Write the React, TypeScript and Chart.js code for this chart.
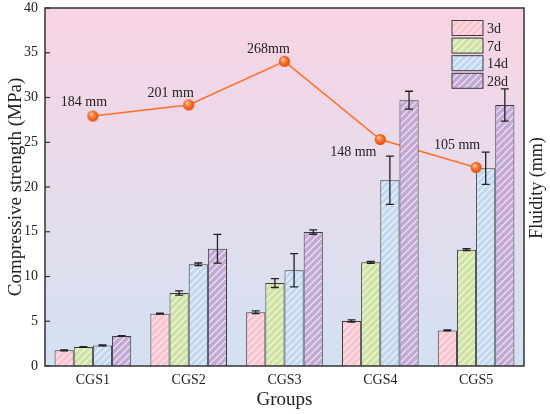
import React, { useEffect, useRef } from "react";
import { Chart, registerables } from "chart.js";

Chart.register(...registerables);

const groups = ["CGS1", "CGS2", "CGS3", "CGS4", "CGS5"];
const ageLabels = ["3d", "7d", "14d", "28d"];
const strength3d = [1.75, 5.85, 6.0, 5.03, 3.98];
const strength7d = [2.12, 8.16, 9.27, 11.58, 13.0];
const strength14d = [2.3, 11.36, 10.7, 20.75, 22.1];
const strength28d = [3.35, 13.1, 14.97, 29.7, 29.16];
const err3d = [0.05, 0.05, 0.15, 0.13, 0.05];
const err7d = [0.05, 0.24, 0.5, 0.1, 0.1];
const err14d = [0.05, 0.15, 1.85, 2.7, 1.8];
const err28d = [0.05, 1.6, 0.25, 1.0, 1.8];
const fluidity = [184, 201, 268, 148, 105];
const fluidityLabels = ["184 mm", "201 mm", "268mm", "148 mm", "105 mm"];

const FONT = "'Liberation Serif', 'Times New Roman', serif";
const barColors = ["#fdc4d0", "#d0e3a4", "#c3d9f2", "#c4a8d6"];
const labelOffsets = [
  [-9, -10],
  [-18, -8],
  [-16, -8],
  [-27, 17],
  [-19, -18],
];

function makeHatch(color: string): CanvasPattern | string {
  const s = 7;
  const c = document.createElement("canvas");
  c.width = s;
  c.height = s;
  const g = c.getContext("2d");
  if (!g) return color;
  g.fillStyle = color;
  g.fillRect(0, 0, s, s);
  g.strokeStyle = "rgba(255,255,255,0.8)";
  g.lineWidth = 1.1;
  g.beginPath();
  g.moveTo(0, s);
  g.lineTo(s, 0);
  g.moveTo(-1, 1);
  g.lineTo(1, -1);
  g.moveTo(s - 1, s + 1);
  g.lineTo(s + 1, s - 1);
  g.stroke();
  return g.createPattern(c, "repeat") || color;
}

function makeBall(r: number): HTMLCanvasElement {
  const size = r * 2 + 2;
  const c = document.createElement("canvas");
  c.width = size;
  c.height = size;
  const g = c.getContext("2d");
  if (g) {
    const cx = size / 2;
    const cy = size / 2;
    const grad = g.createRadialGradient(cx - r * 0.35, cy - r * 0.4, r * 0.1, cx, cy, r);
    grad.addColorStop(0, "#ffd9bf");
    grad.addColorStop(0.35, "#ff8640");
    grad.addColorStop(1, "#e24a05");
    g.fillStyle = grad;
    g.beginPath();
    g.arc(cx, cy, r, 0, Math.PI * 2);
    g.fill();
  }
  return c;
}

export default function App() {
  const ref = useRef<HTMLCanvasElement | null>(null);

  useEffect(() => {
    document.body.style.margin = "0";
    const canvas = ref.current;
    if (!canvas) return;

    const values = [strength3d, strength7d, strength14d, strength28d];
    const errors = [err3d, err7d, err14d, err28d];
    const patterns = barColors.map((c) => makeHatch(c));
    const ball = makeBall(5.5);

    const barSets: any[] = ageLabels.map((lab, i) => ({
      type: "bar",
      label: lab,
      data: values[i],
      backgroundColor: patterns[i],
      borderColor: "#3a3a3a",
      borderWidth: 1,
      categoryPercentage: 0.8,
      barPercentage: 1.0,
      yAxisID: "y",
      order: 1,
    }));

    const decor = {
      id: "decor",
      beforeDraw(chart: any) {
        const { ctx, chartArea: a } = chart;
        const grad = ctx.createLinearGradient(0, a.top, 0, a.bottom);
        grad.addColorStop(0, "#f8d3e4");
        grad.addColorStop(0.5, "#e6dcec");
        grad.addColorStop(1, "#d3e1f1");
        ctx.save();
        ctx.fillStyle = grad;
        ctx.fillRect(a.left, a.top, a.right - a.left, a.bottom - a.top);
        ctx.restore();
      },
      afterDatasetsDraw(chart: any) {
        const { ctx } = chart;
        const ys = chart.scales.y;
        ctx.save();
        ctx.strokeStyle = "#222";
        ctx.lineWidth = 1.3;
        for (let i = 0; i < 4; i++) {
          const meta = chart.getDatasetMeta(i);
          meta.data.forEach((el: any, j: number) => {
            const v = values[i][j];
            const e = errors[i][j];
            const yt = ys.getPixelForValue(v + e);
            const yb = ys.getPixelForValue(v - e);
            const x = el.x;
            ctx.beginPath();
            ctx.moveTo(x, yt);
            ctx.lineTo(x, yb);
            ctx.moveTo(x - 4, yt);
            ctx.lineTo(x + 4, yt);
            ctx.moveTo(x - 4, yb);
            ctx.lineTo(x + 4, yb);
            ctx.stroke();
          });
        }
        ctx.restore();
      },
      afterDraw(chart: any) {
        const { ctx, chartArea: a } = chart;
        const ys = chart.scales.y;
        ctx.save();
        ctx.strokeStyle = "#333";
        ctx.lineWidth = 1.5;
        ctx.strokeRect(a.left, a.top, a.right - a.left, a.bottom - a.top);
        ctx.lineWidth = 1.2;
        ys.ticks.forEach((t: any) => {
          const y = ys.getPixelForValue(t.value);
          ctx.beginPath();
          ctx.moveTo(a.left, y);
          ctx.lineTo(a.left + 5, y);
          ctx.stroke();
        });
        const lineMeta = chart.getDatasetMeta(5);
        ctx.fillStyle = "#222";
        ctx.font = `14px ${FONT}`;
        ctx.textAlign = "center";
        ctx.textBaseline = "alphabetic";
        lineMeta.data.forEach((p: any, j: number) => {
          const [dx, dy] = labelOffsets[j];
          ctx.fillText(fluidityLabels[j], p.x + dx, p.y + dy);
        });
        const lx = 452;
        const ly = 20.5;
        const pitch = 17.6;
        ctx.textAlign = "left";
        for (let i = 0; i < 4; i++) {
          const y = ly + i * pitch;
          ctx.fillStyle = patterns[i] as any;
          ctx.fillRect(lx, y, 31, 15);
          ctx.strokeStyle = "#3a3a3a";
          ctx.lineWidth = 1;
          ctx.strokeRect(lx, y, 31, 15);
          ctx.fillStyle = "#222";
          ctx.fillText(ageLabels[i], lx + 35, y + 12.5);
        }
        ctx.translate(537, 188);
        ctx.rotate(-Math.PI / 2);
        ctx.font = `18px ${FONT}`;
        ctx.textAlign = "center";
        ctx.textBaseline = "middle";
        ctx.fillStyle = "#222";
        ctx.fillText("Fluidity (mm)", 0, 0);
        ctx.restore();
      },
    };

    const chart = new Chart(canvas, {
      type: "bar",
      data: {
        labels: groups,
        datasets: [
          ...barSets,
          {
            type: "line",
            label: "Fluidity line",
            data: fluidity,
            yAxisID: "y1",
            borderColor: "#ff6f26",
            borderWidth: 1.5,
            pointRadius: 0,
            order: 10,
          },
          {
            type: "line",
            label: "Fluidity",
            data: fluidity,
            yAxisID: "y1",
            showLine: false,
            pointStyle: ball,
            pointRadius: 5.5,
            order: 0,
          },
        ],
      } as any,
      options: {
        responsive: false,
        animation: false,
        devicePixelRatio: 1,
        layout: { padding: { top: 8, right: 26, left: 0, bottom: 0 } },
        plugins: {
          legend: { display: false },
          tooltip: { enabled: false },
        },
        scales: {
          x: {
            type: "category",
            grid: { display: false, drawTicks: false },
            border: { display: false },
            ticks: { font: { family: FONT, size: 14 }, color: "#222", padding: 6 },
            title: {
              display: true,
              text: "Groups",
              font: { family: FONT, size: 19 },
              color: "#222",
              padding: { top: 0, bottom: 2.6 },
            },
            afterFit: (s: any) => {
              s.height = 48;
              s.paddingLeft = 0;
              s.paddingRight = 0;
            },
          },
          y: {
            type: "linear",
            position: "left",
            min: 0,
            max: 40,
            grid: { display: false, drawTicks: false },
            border: { display: false },
            ticks: { stepSize: 5, font: { family: FONT, size: 14 }, color: "#222", padding: 7 },
            title: {
              display: true,
              text: "Compressive strength (MPa)",
              font: { family: FONT, size: 19 },
              color: "#222",
              padding: { top: 4.6, bottom: 0 },
            },
            afterFit: (s: any) => {
              s.width = 45;
              s.paddingTop = 0;
              s.paddingBottom = 0;
            },
          },
          y1: {
            type: "linear",
            position: "right",
            display: false,
            min: -200,
            max: 350,
          },
        },
      } as any,
      plugins: [decor],
    });

    return () => {
      chart.destroy();
    };
  }, []);

  return (
    <div style={{ width: 550, height: 414 }}>
      <canvas ref={ref} width={550} height={414} />
    </div>
  );
}
